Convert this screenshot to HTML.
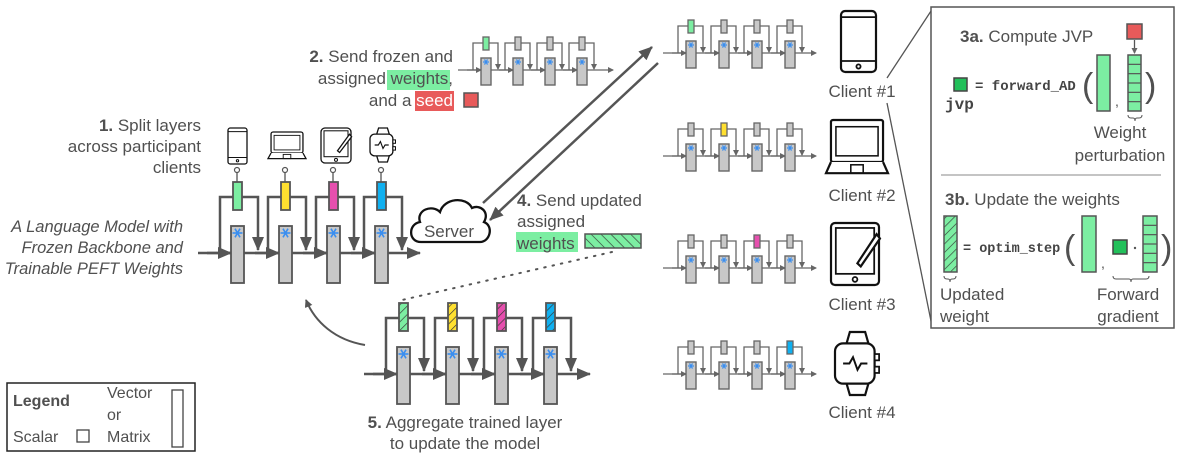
<!DOCTYPE html>
<html><head><meta charset="utf-8"><style>
html,body{margin:0;padding:0;background:#fff;}
svg{display:block;}
text{font-family:"Liberation Sans",sans-serif;fill:#505050;}
.m{font-family:"Liberation Mono",monospace;font-weight:bold;fill:#444;}
</style></head><body>
<svg id="s" width="1179" height="459" viewBox="0 0 1179 459" xmlns="http://www.w3.org/2000/svg">
<defs>
<marker id="ah" markerWidth="8" markerHeight="8" refX="7" refY="4" orient="auto" markerUnits="userSpaceOnUse"><path d="M0,0 L8,4 L0,8 z" fill="#555"/></marker>
<marker id="ahs" markerWidth="6" markerHeight="6" refX="5" refY="3" orient="auto" markerUnits="userSpaceOnUse"><path d="M0,0 L6,3 L0,6 z" fill="#666"/></marker>
<marker id="ahb" markerWidth="14" markerHeight="12" refX="13" refY="6" orient="auto" markerUnits="userSpaceOnUse"><path d="M0,0 L14,6 L0,12 z" fill="#555"/></marker>
<pattern id="hg" width="6" height="6" patternUnits="userSpaceOnUse" patternTransform="rotate(45)"><rect width="6" height="6" fill="#7ceea2"/><line x1="0" y1="0" x2="0" y2="6" stroke="#333" stroke-width="1.3"/></pattern>
<pattern id="hy" width="6" height="6" patternUnits="userSpaceOnUse" patternTransform="rotate(45)"><rect width="6" height="6" fill="#ffe030"/><line x1="0" y1="0" x2="0" y2="6" stroke="#333" stroke-width="1.3"/></pattern>
<pattern id="hp" width="6" height="6" patternUnits="userSpaceOnUse" patternTransform="rotate(45)"><rect width="6" height="6" fill="#e64fae"/><line x1="0" y1="0" x2="0" y2="6" stroke="#333" stroke-width="1.3"/></pattern>
<pattern id="hb" width="6" height="6" patternUnits="userSpaceOnUse" patternTransform="rotate(45)"><rect width="6" height="6" fill="#10b0f0"/><line x1="0" y1="0" x2="0" y2="6" stroke="#333" stroke-width="1.3"/></pattern>
<pattern id="hw" width="7" height="7" patternUnits="userSpaceOnUse" patternTransform="rotate(-45)"><rect width="7" height="7" fill="#7ceea2"/><line x1="0" y1="0" x2="0" y2="7" stroke="#333" stroke-width="1.3"/></pattern>
</defs>
<g id="g"></g>

<text x="201" y="131" font-size="17" text-anchor="end"><tspan font-weight="bold">1.</tspan> Split layers</text>
<text x="201" y="152" font-size="17" text-anchor="end">across participant</text>
<text x="201" y="173" font-size="17" text-anchor="end">clients</text>
<text x="183" y="232" font-size="16.5" font-style="italic" text-anchor="end">A Language Model with</text>
<text x="183" y="253" font-size="16.5" font-style="italic" text-anchor="end">Frozen Backbone and</text>
<text x="183" y="274" font-size="16.5" font-style="italic" text-anchor="end">Trainable PEFT Weights</text>

<rect x="387" y="70" width="63" height="20" fill="#7ceea2"/>
<rect x="415" y="91" width="39" height="20" fill="#e85a5a"/>
<text x="453" y="62" font-size="17" text-anchor="end"><tspan font-weight="bold">2.</tspan> Send frozen and</text>
<text x="453" y="84" font-size="17" text-anchor="end">assigned weights,</text>
<text x="453" y="106" font-size="17" text-anchor="end" >and a <tspan fill="#fff">seed</tspan></text>
<rect x="464" y="93" width="14" height="14" fill="#e85a5a" stroke="#555" stroke-width="1.5"/>

<rect x="516" y="232" width="62" height="20" fill="#7ceea2"/>
<text x="517" y="206" font-size="17"><tspan font-weight="bold">4.</tspan> Send updated</text>
<text x="517" y="227" font-size="17">assigned</text>
<text x="517" y="249" font-size="17">weights</text>
<rect x="585" y="234" width="56" height="14" fill="url(#hw)" stroke="#555" stroke-width="1.5"/>
<line x1="612" y1="252" x2="402" y2="300" stroke="#555" stroke-width="2" stroke-dasharray="1.5,7" stroke-linecap="round"/>

<line x1="483" y1="203" x2="652" y2="47" stroke="#555" stroke-width="2.5" marker-end="url(#ahb)"/>
<line x1="658" y1="63" x2="490" y2="220" stroke="#555" stroke-width="2.5" marker-end="url(#ahb)"/>

<path d="M421,242 C408,242 408,224 420,222 C416,210 432,204 440,212 C444,198 466,196 472,208 C480,204 490,212 484,222 C494,226 490,242 480,242 Z" fill="#fff" stroke="#111" stroke-width="2.3"/>
<text x="449" y="237" font-size="17" text-anchor="middle" fill="#333">Server</text>

<path d="M365,345 C335,340 315,322 306,300" fill="none" stroke="#555" stroke-width="2" marker-end="url(#ah)"/>

<text x="465" y="428" font-size="17" text-anchor="middle"><tspan font-weight="bold">5.</tspan> Aggregate trained layer</text>
<text x="465" y="449" font-size="17" text-anchor="middle">to update the model</text>

<rect x="7" y="383" width="188" height="68" fill="#fff" stroke="#222" stroke-width="1.5"/>
<text x="13" y="406" font-size="16" font-weight="bold" fill="#333">Legend</text>
<text x="13" y="442" font-size="16">Scalar</text>
<rect x="77" y="430" width="12" height="12" fill="#fff" stroke="#444" stroke-width="1.3"/>
<text x="107" y="398" font-size="16">Vector</text>
<text x="107" y="420" font-size="16">or</text>
<text x="107" y="442" font-size="16">Matrix</text>
<rect x="172" y="390" width="11" height="57" fill="#fff" stroke="#444" stroke-width="1.3"/>

<text x="862" y="97" font-size="17" text-anchor="middle">Client #1</text>
<text x="862" y="201" font-size="17" text-anchor="middle">Client #2</text>
<text x="862" y="310" font-size="17" text-anchor="middle">Client #3</text>
<text x="862" y="418" font-size="17" text-anchor="middle">Client #4</text>

<line x1="887" y1="78" x2="933" y2="8" stroke="#555" stroke-width="1.3"/>
<line x1="887" y1="103" x2="932" y2="326" stroke="#555" stroke-width="1.3"/>

<rect x="931" y="7" width="243" height="321" fill="#fff" stroke="#555" stroke-width="1.5"/>
<line x1="941" y1="175" x2="1161" y2="175" stroke="#888" stroke-width="1"/>
<text x="960" y="42" font-size="17"><tspan font-weight="bold">3a.</tspan> Compute JVP</text>
<rect x="1127" y="24" width="15" height="15" fill="#e85a5a" stroke="#555" stroke-width="1.5"/>
<line x1="1134.5" y1="40" x2="1134.5" y2="53" stroke="#555" stroke-width="1.3" marker-end="url(#ahs)"/>
<rect x="954" y="78" width="13" height="13" fill="#22c05a" stroke="#444" stroke-width="1.5"/>
<text class="m" x="975" y="90" font-size="14">= forward_AD</text>
<text class="m" x="945" y="109" font-size="16">jvp</text>
<text x="1082" y="97" font-size="34" fill="#555">(</text>
<rect x="1097" y="55" width="13" height="56" fill="#7ceea2" stroke="#555" stroke-width="1.5"/>
<text x="1115" y="106" font-size="14">,</text>
<g id="seg1"></g>
<text x="1145" y="97" font-size="34" fill="#555">)</text>
<path d="M1128,115 q0,3 3,3 h2 q2,0 2,3 q0,-3 2,-3 h2 q3,0 3,-3" fill="none" stroke="#555" stroke-width="1"/>
<text x="1120" y="138" font-size="17" text-anchor="middle">Weight</text>
<text x="1120" y="161" font-size="17" text-anchor="middle">perturbation</text>

<text x="945" y="205" font-size="17"><tspan font-weight="bold">3b.</tspan> Update the weights</text>
<rect x="944" y="216" width="13" height="56" fill="url(#hg)" stroke="#555" stroke-width="1.5"/>
<text class="m" x="963" y="252" font-size="13.5">= optim_step</text>
<text x="1064" y="259" font-size="34" fill="#555">(</text>
<rect x="1082" y="216" width="14" height="56" fill="#7ceea2" stroke="#555" stroke-width="1.5"/>
<text x="1101" y="268" font-size="14">,</text>
<rect x="1113" y="240" width="14" height="14" fill="#22c05a" stroke="#444" stroke-width="1.5"/>
<circle cx="1135" cy="248" r="1.2" fill="#555"/>
<g id="seg2"></g>
<text x="1161" y="259" font-size="34" fill="#555">)</text>
<path d="M944,276 q0,3 3,3 h1 q2,0 2,3 q0,-3 2,-3 h1 q3,0 3,-3" fill="none" stroke="#555" stroke-width="1"/>
<path d="M1113,276 q0,3 3,3 h13 q2,0 2,3 q0,-3 2,-3 h13 q3,0 3,-3" fill="none" stroke="#555" stroke-width="1"/>
<text x="940" y="300" font-size="17">Updated</text>
<text x="940" y="322" font-size="17">weight</text>
<text x="1128" y="300" font-size="17" text-anchor="middle">Forward</text>
<text x="1128" y="322" font-size="17" text-anchor="middle">gradient</text>
</svg>
<script>
var NS="http://www.w3.org/2000/svg";
var G=document.getElementById("g");
function el(t,a,p){var e=document.createElementNS(NS,t);for(var k in a)e.setAttribute(k,a[k]);(p||G).appendChild(e);return e;}
var GR="#c8c8c8",ST="#555";
function snow(cx,cy,r){for(var i=0;i<3;i++){var a=i*Math.PI/3;el("line",{x1:cx-r*Math.cos(a),y1:cy-r*Math.sin(a),x2:cx+r*Math.cos(a),y2:cy+r*Math.sin(a),stroke:"#3a8ef0","stroke-width":r>3?1.6:1.2});}}
function bigModel(bx,ly,sp,fills,xs,xe){
  el("line",{x1:xs,y1:ly,x2:xe,y2:ly,stroke:ST,"stroke-width":2.5,"marker-end":"url(#ahb)"});
  for(var i=0;i<4;i++){
    var x=bx+i*sp;
    el("polyline",{points:(x-11)+","+ly+" "+(x-11)+","+(ly-56)+" "+(x+27)+","+(ly-56)+" "+(x+27)+","+(ly-3),fill:"none",stroke:ST,"stroke-width":2.5,"marker-end":"url(#ahb)"});
    el("line",{x1:x-24,y1:ly,x2:x,y2:ly,stroke:ST,"stroke-width":2.5,"marker-end":"url(#ahb)"});
    el("rect",{x:x,y:ly-27,width:13,height:57,fill:GR,stroke:ST,"stroke-width":1.8});
    snow(x+6.5,ly-20,5);
    el("rect",{x:x+2,y:ly-71,width:9,height:28,fill:fills[i],stroke:ST,"stroke-width":1.8});
  }
}
function smallModel(bx,ly,sp,hi,col,xs,xe){
  var S="#666";
  el("line",{x1:xs,y1:ly,x2:xe,y2:ly,stroke:S,"stroke-width":1.3,"marker-end":"url(#ahs)"});
  for(var i=0;i<4;i++){
    var x=bx+i*sp;
    el("polyline",{points:(x-8)+","+ly+" "+(x-8)+","+(ly-27)+" "+(x+17)+","+(ly-27)+" "+(x+17)+","+(ly-1),fill:"none",stroke:S,"stroke-width":1.3,"marker-end":"url(#ahs)"});
    el("line",{x1:x-14,y1:ly,x2:x,y2:ly,stroke:S,"stroke-width":1.3,"marker-end":"url(#ahs)"});
    el("rect",{x:x,y:ly-12,width:10,height:27,fill:GR,stroke:S,"stroke-width":1.4});
    snow(x+5,ly-8,3);
    el("rect",{x:x+2,y:ly-33,width:6,height:13,fill:i==hi?col:GR,stroke:S,"stroke-width":1.3});
  }
}
bigModel(231,253,48,["#7ceea2","#ffe030","#e64fae","#10b0f0"],198,420);
bigModel(397,374,49,["url(#hg)","url(#hy)","url(#hp)","url(#hb)"],364,590);
smallModel(481,70,32,0,"#7ceea2",458,613);
smallModel(686,53,33,0,"#7ceea2",663,816);
smallModel(686,156,33,1,"#ffe030",663,816);
smallModel(686,268,33,2,"#e64fae",663,816);
smallModel(686,374,33,3,"#10b0f0",663,816);
[237,285,333,381].forEach(function(c){el("line",{x1:c,y1:172,x2:c,y2:182,stroke:ST,"stroke-width":1.3});el("circle",{cx:c,cy:170,r:2.5,fill:"#fff",stroke:ST,"stroke-width":1.2});});
function seg(x,y,w,h,n,p){var g=document.getElementById(p);el("rect",{x:x,y:y,width:w,height:h,fill:"#7ceea2",stroke:ST,"stroke-width":1.5},g);for(var i=1;i<n;i++)el("line",{x1:x,y1:y+h*i/n,x2:x+w,y2:y+h*i/n,stroke:ST,"stroke-width":1.2},g);}
seg(1128,55,13,56,6,"seg1");seg(1143,216,14,56,6,"seg2");
function phone(x,y,w,h,sw){el("rect",{x:x,y:y,width:w,height:h,rx:w*0.12,fill:"#fff",stroke:"#111","stroke-width":sw});el("line",{x1:x,y1:y+h*0.1,x2:x+w,y2:y+h*0.1,stroke:"#111","stroke-width":sw*0.8});el("line",{x1:x,y1:y+h*0.82,x2:x+w,y2:y+h*0.82,stroke:"#111","stroke-width":sw*0.8});el("circle",{cx:x+w/2,cy:y+h*0.91,r:w*0.06,fill:"none",stroke:"#111","stroke-width":sw*0.8});}
function laptop(x,y,w,h,sw){el("rect",{x:x+w*0.08,y:y,width:w*0.84,height:h*0.75,rx:2,fill:"#fff",stroke:"#111","stroke-width":sw});el("rect",{x:x+w*0.16,y:y+h*0.12,width:w*0.68,height:h*0.52,fill:"none",stroke:"#111","stroke-width":sw*0.7});el("path",{d:"M"+(x+w*0.08)+","+(y+h*0.75)+" L"+x+","+(y+h*0.95)+" L"+(x+w)+","+(y+h*0.95)+" L"+(x+w*0.92)+","+(y+h*0.75),fill:"#fff",stroke:"#111","stroke-width":sw});el("rect",{x:x+w*0.4,y:y+h*0.8,width:w*0.2,height:h*0.15,fill:"none",stroke:"#111","stroke-width":sw*0.7});}
function tablet(x,y,w,h,sw){el("rect",{x:x,y:y,width:w,height:h,rx:4,fill:"#fff",stroke:"#111","stroke-width":sw});el("rect",{x:x+w*0.1,y:y+h*0.08,width:w*0.8,height:h*0.74,fill:"none",stroke:"#111","stroke-width":sw*0.8});el("circle",{cx:x+w/2,cy:y+h*0.91,r:w*0.05,fill:"none",stroke:"#111","stroke-width":sw*0.8});el("path",{d:"M"+(x+w*0.55)+","+(y+h*0.65)+" L"+(x+w*0.95)+","+(y+h*0.18)+" L"+(x+w*1.02)+","+(y+h*0.25)+" L"+(x+w*0.62)+","+(y+h*0.7)+" Z",fill:"#fff",stroke:"#111","stroke-width":sw});}
function watch(x,y,w,h,sw){el("path",{d:"M"+(x+w*0.25)+","+(y+h*0.2)+" L"+(x+w*0.33)+","+y+" L"+(x+w*0.67)+","+y+" L"+(x+w*0.75)+","+(y+h*0.2)+" M"+(x+w*0.25)+","+(y+h*0.8)+" L"+(x+w*0.33)+","+(y+h)+" L"+(x+w*0.67)+","+(y+h)+" L"+(x+w*0.75)+","+(y+h*0.8),fill:"#fff",stroke:"#111","stroke-width":sw});el("rect",{x:x,y:y+h*0.18,width:w*0.88,height:h*0.64,rx:w*0.18,fill:"#fff",stroke:"#111","stroke-width":sw});el("rect",{x:x+w*0.88,y:y+h*0.35,width:w*0.1,height:h*0.1,fill:"#fff",stroke:"#111","stroke-width":sw*0.8});el("rect",{x:x+w*0.88,y:y+h*0.55,width:w*0.1,height:h*0.1,fill:"#fff",stroke:"#111","stroke-width":sw*0.8});el("polyline",{points:(x+w*0.18)+","+(y+h*0.5)+" "+(x+w*0.32)+","+(y+h*0.5)+" "+(x+w*0.4)+","+(y+h*0.4)+" "+(x+w*0.5)+","+(y+h*0.6)+" "+(x+w*0.58)+","+(y+h*0.5)+" "+(x+w*0.72)+","+(y+h*0.5),fill:"none",stroke:"#111","stroke-width":sw*0.9});}
phone(228,128,19,36,1.3);laptop(268,132,38,28,1.3);tablet(321,128,30,35,1.3);watch(370,128,26,34,1.3);
phone(841,11,35,61,2.2);laptop(826,120,62,56,2.2);tablet(831,223,48,62,2.2);watch(835,332,45,63,2.2);
</script>
</body></html>
